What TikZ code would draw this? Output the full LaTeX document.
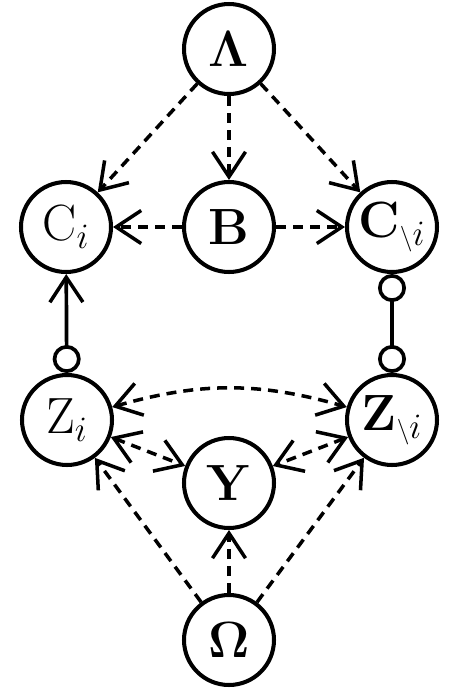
\RequirePackage{fix-cm}
\documentclass[tikz,border=0pt]{standalone}
\usepackage{amsmath}
\usepackage{amssymb}
\usepackage{tikz}
\usetikzlibrary{positioning,arrows.meta,calc}
\newcommand{\varlbl}[1]{\makebox[0pt]{$#1$}}
\newcommand{\noti}{{\scriptscriptstyle\backslash}i}

\begin{document}
\begin{tikzpicture}[x=0.02cm, y=-0.02cm]
        \tikzset{
          var/.style={circle, draw=black, fill=white, line width=2.3pt,
                      minimum size=1.8cm, inner sep=0pt,
                      font=\fontsize{29}{34}\selectfont},
          dep/.style={draw=black, line width=2pt,
                      dash pattern=on 0.2cm off 0.14cm,
                      -{Straight Barb[length=0.5cm, width=0.66cm, line width=2pt]}},
          biDep/.style={dep,
                      {Straight Barb[length=0.5cm, width=0.66cm, line width=2pt]}-{Straight Barb[length=0.5cm, width=0.66cm, line width=2pt]}},
          link/.style={draw=black, line width=2.1pt}
        }
        \useasboundingbox (0,0) rectangle (452,694);
        % Priors
        \node[var] (lam) at (229,49) {\varlbl{\boldsymbol{\Lambda}}};
        \node[var] (om) at (229,640) {\varlbl{\boldsymbol{\Omega}}};
        % Middle row
        \node[var] (cI) at (66,227) {\varlbl{\mathrm{C}_i}};
        \node[var] (b) at (229,227) {\varlbl{\mathbf{B}}};
        \node[var] (cNotI) at (392,227) {\varlbl{\mathbf{C}_{\noti}}};
        % Lower row
        \node[var] (zI) at (67,420) {\varlbl{\mathrm{Z}_i}};
        \node[var] (zNotI) at (392,420) {\varlbl{\mathbf{Z}_{\noti}}};
        \node[var] (y) at (229,483) {\varlbl{\mathbf{Y}}};
        % Edges from Lambda
        \foreach \t in {cI,b,cNotI} {
          \draw[dep] (lam) -- (\t);
        }
        % Edges from B
        \foreach \t in {cI,cNotI} {
          \draw[dep, line width=2.8pt] (b) -- (\t);
        }
        % Links between C and Z
        \draw[link, {Circle[open, length=0.56cm, width=0.56cm, fill=white]}-{Straight Barb[length=0.5cm, width=0.66cm, line width=2pt]}] (zI) -- (cI);
        \draw[link, {Circle[open, length=0.56cm, width=0.56cm, fill=white]}-{Circle[open, length=0.56cm, width=0.56cm, fill=white]}] (cNotI) -- (zNotI);
        % Edges among Z and Y
        \draw[biDep] (zI) to[bend left=16] (zNotI);
        \draw[biDep] (zI) -- (y);
        \draw[biDep] (zNotI) -- (y);
        % Edges from Omega
        \foreach \t in {zI,y,zNotI} {
          \draw[dep] (om) -- (\t);
        }
      \end{tikzpicture}
\end{document}
